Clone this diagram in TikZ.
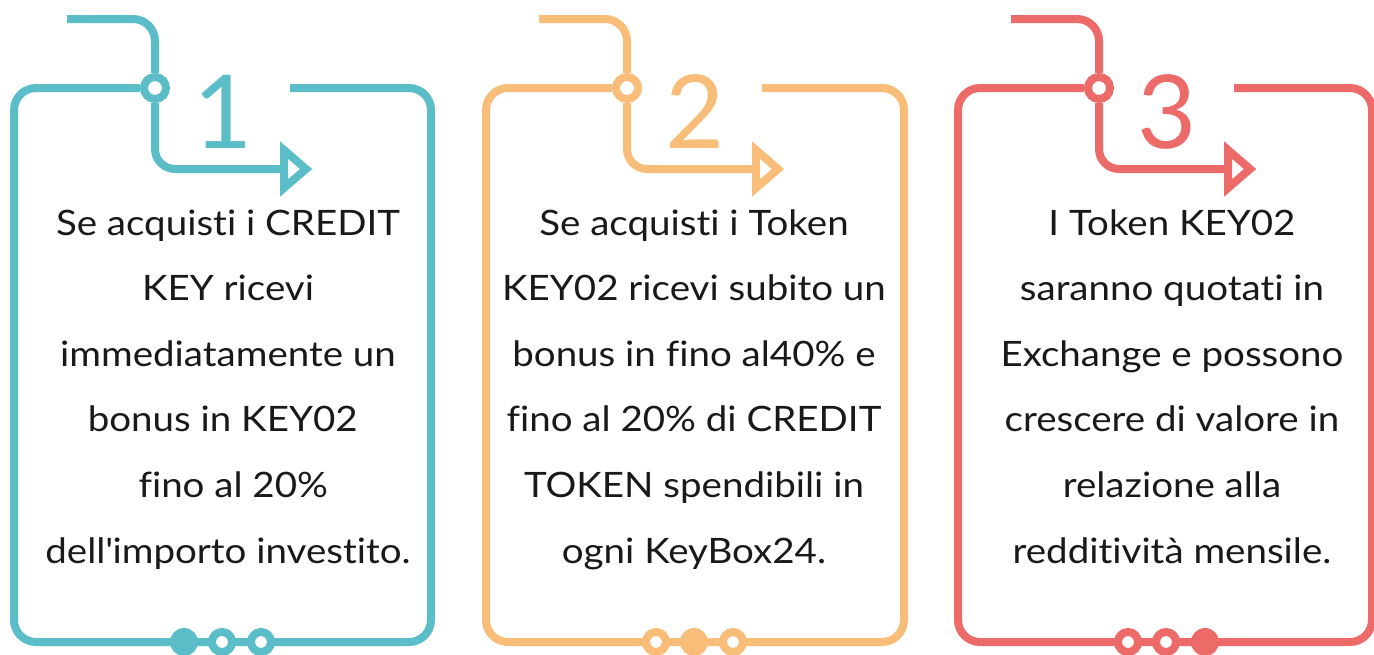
\documentclass[tikz,border=0pt]{standalone}
\usepackage{fontspec}
\setmainfont[Ligatures={CommonOff}]{Lato}
\newfontfamily\bodyfont[Ligatures={CommonOff}, FakeStretch=1.1]{Lato}
\definecolor{cteal}{HTML}{5BBDC8}
\definecolor{corange}{HTML}{F9BD7A}
\definecolor{cred}{HTML}{EC6A68}
\tikzset{
  frame/.style={line width=8pt, rounded corners=22pt},
  hubdot/.style={circle, draw, fill=white, line width=8pt, minimum size=22pt, inner sep=0pt},
  ringdot/.style={circle, draw, fill=white, line width=8pt, minimum size=20pt, inner sep=0pt},
  fulldot/.style={circle, minimum size=28pt, inner sep=0pt},
  txt/.style={anchor=base, inner sep=0pt, font=\bodyfont\fontsize{35}{40}\selectfont, text=black!90},
  digit/.style={anchor=base, inner sep=0pt, font=\fontsize{102}{110}\selectfont}
}
% #1 id, #2 xshift, #3 colour, #4 right edge, #5 digit, #6 text centre, #7 which dot is full, #8 lines
\newcommand\drawpanel[8]{%
\begin{scope}[xshift=#2pt, color=#3]
  \node[hubdot, draw=#3] (hub#1) at (155,88) {};
  \coordinate (start#1) at (67,19);
  \draw[frame] (start#1) -- (155,19) -- (hub#1.north);
  \coordinate (bx#1) at (290,88);
  \draw[frame] (bx#1) -- (#4,88) -- (#4,642) -- (14,642) -- (14,88) -- (hub#1.west);
  \coordinate (ar#1) at (284,169);
  \draw[line width=8pt, rounded corners=20pt] (hub#1.south) -- (155,169) -- (ar#1);
  \draw[line width=8pt, line join=miter, fill=white] (284,150) -- (306,169) -- (284,188) -- cycle;
  \node[digit, text=#3] (num#1) at (223,148) {#5};
  \foreach \k/\xx in {1/184,2/222,3/261}{
    \ifnum\k=#7
      \node[fulldot, fill=#3] (dot#1\k) at (\xx,642) {};
    \else
      \node[ringdot, draw=#3] (dot#1\k) at (\xx,642) {};
    \fi
  }
  \foreach \t [count=\i from 0] in {#8}
    \node[txt] (t#1\i) at (#6, 235+65.6*\i) {\t};
\end{scope}}
\begin{document}
\begin{tikzpicture}[x=1pt, y=-1pt]
\useasboundingbox (0,0) rectangle (1374,654);
\fill[white] (0,0) rectangle (1374,654);
\drawpanel{a}{0}{cteal}{431}{1}{228}{1}{{Se acquisti i CREDIT},{KEY ricevi},{immediatamente un},{bonus in KEY02\kern0.3em},{\kern0.3em fino al 20\%},{dell\textquotesingle importo investito.}}
\drawpanel{b}{472}{corange}{432}{2}{222}{2}{{Se acquisti i Token},{KEY02 ricevi subito un},{bonus in fino al40\% e},{fino al 20\% di CREDIT},{TOKEN spendibili in},{ogni KeyBox24.}}
\drawpanel{c}{944}{cred}{428}{3}{228}{3}{{I Token KEY02},{saranno quotati in},{Exchange e possono},{crescere di valore in},{relazione alla},{redditività mensile.}}
\end{tikzpicture}
\end{document}
